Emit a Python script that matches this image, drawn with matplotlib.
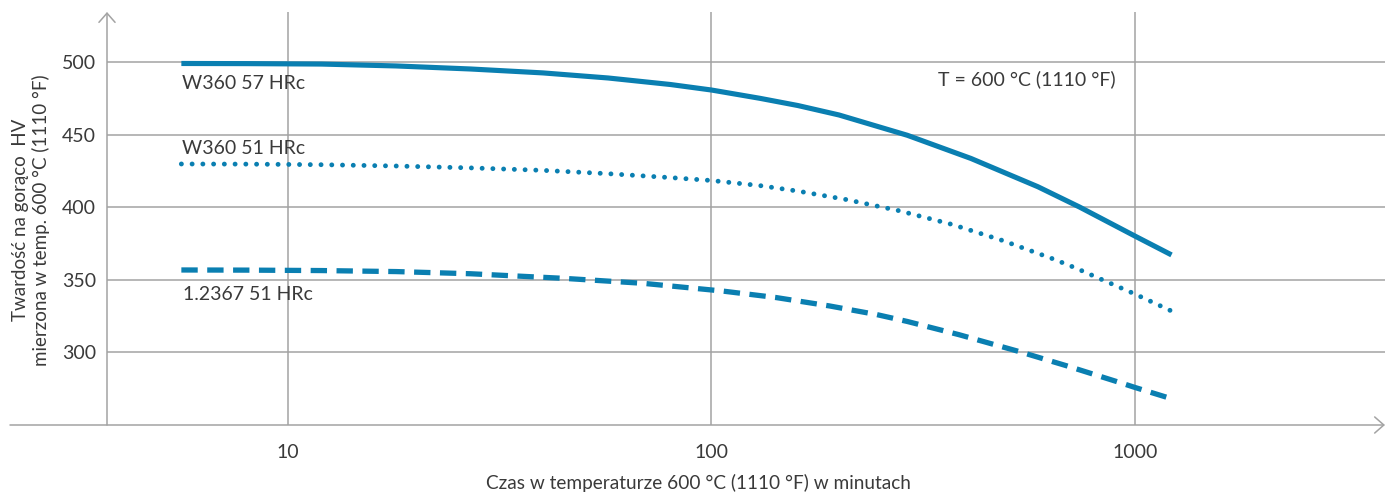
import numpy as np
import matplotlib
matplotlib.use('Agg')
import matplotlib.pyplot as plt

plt.rcParams['font.family'] = ['Lato', 'DejaVu Sans']

# time in minutes and hot hardness HV
t_57 = [5.6, 8, 12, 18, 27, 40, 57, 80, 100, 130, 160, 200, 290, 410, 590, 740, 1000, 1220]
w360_57 = [499, 498.9, 498.6, 497.3, 495.2, 492.5, 489, 484.5, 480.7, 475, 470,
           463.5, 449.5, 433.5, 414, 400, 380, 367]

t_51 = [5.6, 8, 12, 18, 27, 40, 57, 80, 100, 130, 160, 207, 277, 370, 486, 644, 724,
        810, 1000, 1220]
w360_51 = [429.7, 429.6, 429.2, 428.3, 427, 425.3, 423, 420.3, 418.3, 414.8, 411,
           405.3, 397.5, 388, 377, 364, 358, 351.7, 340, 328.3]

t_2367 = [5.6, 8, 12, 18, 27, 45, 69, 106, 142, 190, 246, 290, 384, 532, 692, 916,
          1000, 1220]
w1_2367 = [356.6, 356.5, 356.2, 355.5, 354, 350.8, 347.4, 342.1, 337.6, 331.8, 325.8,
           321.1, 312, 300.4, 290.4, 279.2, 275.6, 267.8]

yticks = [300, 350, 400, 450, 500]
xticks = [10, 100, 1000]

blue = '#0a7fb1'
grid = '#a3a3a3'
txt = '#3a3a3a'

fig = plt.figure(figsize=(13.92, 4.99), dpi=100)
ax = fig.add_axes([107 / 1392, 74 / 499, 1278 / 1392, 413 / 499])
ax.set_xscale('log')
ax.set_xlim(10 ** 0.5726, 10 ** 3.5905)
ax.set_ylim(249.7, 534.5)

for s in ax.spines.values():
    s.set_visible(False)
ax.tick_params(length=0, labelsize=14, colors=txt)
ax.tick_params(axis='y', pad=8)
ax.tick_params(axis='x', pad=14)
ax.set_yticks(yticks)
ax.set_xticks(xticks)
ax.set_xticklabels([str(v) for v in xticks])
ax.xaxis.set_minor_locator(plt.NullLocator())

for v in yticks:
    ax.axhline(v, color=grid, lw=1.1, zorder=1)
for v in xticks:
    ax.axvline(v, color=grid, lw=1.1, zorder=1)

# axis arrows
arw = dict(arrowstyle='->,head_length=0.33,head_width=0.29', color=grid, lw=1.1,
           mutation_scale=20, shrinkA=0, shrinkB=0)
ax.annotate('', xy=(1, 0), xytext=(-97 / 1278, 0), xycoords='axes fraction',
            arrowprops=arw, annotation_clip=False)
ax.annotate('', xy=(0, 1), xytext=(0, 0), xycoords='axes fraction',
            arrowprops=arw, annotation_clip=False)

ax.plot(t_57, w360_57, color=blue, lw=3.7, solid_capstyle='butt', zorder=3)
ax.plot(t_51, w360_51, color=blue, lw=3.5, linestyle=(0, (0.01, 2.2)),
        dash_capstyle='round', zorder=3)
ax.plot(t_2367, w1_2367, color=blue, lw=3.8, linestyle=(0, (3.1, 1.8)),
        dash_capstyle='butt', zorder=3)

ax.text(5.63, 485.5, 'W360 57 HRc', fontsize=14, color=txt, va='center', ha='left')
ax.text(5.63, 440.3, 'W360 51 HRc', fontsize=14, color=txt, va='center', ha='left')
ax.text(5.66, 339.7, '1.2367 51 HRc', fontsize=14, color=txt, va='center', ha='left')
ax.text(902, 488.3, 'T = 600 °C (1110 °F)', fontsize=14, color=txt, va='center', ha='right')

fig.text(31 / 1392, 1 - 220 / 499,
         'Twardość na gorąco  HV\nmierzona w temp. 600 °C (1110 °F)',
         rotation=90, ha='center', va='center', multialignment='center',
         fontsize=13.5, color=txt, linespacing=1.2)
fig.text(698 / 1392, 1 - 483 / 499, 'Czas w temperaturze 600 °C (1110 °F) w minutach',
         ha='center', va='center', fontsize=13.7, color=txt)

fig.savefig('out.png', dpi=100)
